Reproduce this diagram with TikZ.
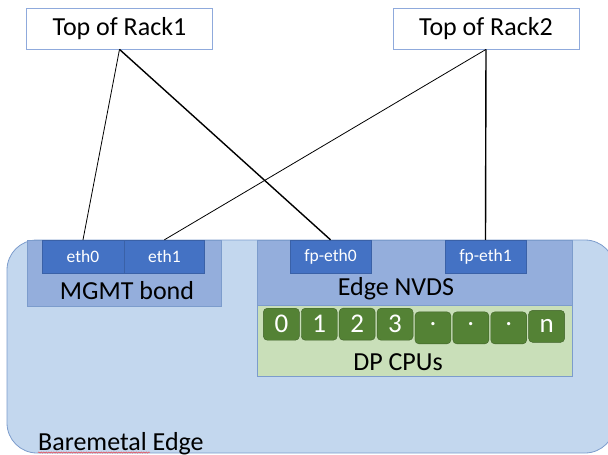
\documentclass[tikz,border=0pt]{standalone}
\usepackage{fontspec}
\setmainfont{Carlito}
\usetikzlibrary{matrix,positioning,decorations.pathmorphing}

\definecolor{edgefill}{HTML}{C3D7EE}
\definecolor{edgeline}{HTML}{7C9CCC}
\definecolor{nvdsfill}{HTML}{94AEDC}
\definecolor{portfill}{HTML}{4472C4}
\definecolor{cpufill}{HTML}{C9DFB9}
\definecolor{cpudark}{HTML}{548235}
\definecolor{rackline}{HTML}{8FAADC}

\newcommand{\middot}{\raisebox{7pt}{.}}

\begin{document}
\begin{tikzpicture}[x=1pt, y=-1pt,
  bigtext/.style={font=\fontsize{26}{30}\selectfont},
  rack/.style={draw=rackline, fill=white, line width=0.8pt,
               minimum width=186pt, minimum height=41pt, inner sep=0pt, bigtext},
  port/.style={draw=portfill!85!black, fill=portfill, text=white, line width=0.4pt,
               minimum height=33pt, inner sep=0pt, font=\fontsize{17.5}{20}\selectfont},
  cpu/.style={draw=cpudark!75!black, fill=cpudark, text=white, rounded corners=4pt,
              minimum width=36pt, minimum height=32pt, inner sep=0pt,
              font=\fontsize{27}{30}\selectfont},
  link/.style={black, line width=0.8pt}]

  \useasboundingbox (0,0) rectangle (608,455);
  \clip (0,0) rectangle (608,455);

  %--- Baremetal Edge host
  \draw[draw=edgeline, fill=edgefill, line width=0.8pt, rounded corners=30pt]
    (7,240) rectangle (615,453);
  \node[bigtext, anchor=base west, inner sep=0pt] (bmlabel) at (38,450) {Baremetal Edge};
  \draw[red!80, line width=0.4pt, decorate,
        decoration={snake, amplitude=0.7pt, segment length=2.5pt}]
    ([yshift=-2.5pt]bmlabel.base west) -- ++(112,0);

  %--- MGMT bond with eth0 / eth1
  \node[draw=edgeline, fill=nvdsfill, minimum width=194pt, minimum height=66pt,
        inner sep=0pt] (mgmt) at (124,273) {};
  \node[port, minimum width=82pt] (eth0) at (83,256.5) {eth0};
  \node[port, minimum width=80pt, right=0pt of eth0] (eth1) {eth1};
  \node[bigtext] (mgmtlabel) at (127,291) {MGMT bond};

  %--- Edge NVDS with fast path ports
  \node[draw=edgeline, fill=nvdsfill, minimum width=315pt, minimum height=65pt,
        inner sep=0pt] (nvds) at (414.5,272.5) {};
  \node[port, minimum width=81pt] (fpeth0) at (330.5,256.5) {fp-eth0};
  \node[port, minimum width=81pt] (fpeth1) at (485.5,256.5) {fp-eth1};
  \node[bigtext] (nvdslabel) at (396,289) {Edge NVDS};

  %--- DP CPUs
  \node[draw=edgeline, fill=cpufill, minimum width=315pt, minimum height=71pt,
        inner sep=0pt, below=0pt of nvds] (dp) {};
  \matrix[matrix of nodes, column sep=1.5pt, nodes={cpu}] (C) at (414,326) {
    0 & 1 & 2 & 3 & \middot & \middot & \middot & n \\
  };
  \node[bigtext] (dplabel) at (398,362) {DP CPUs};

  %--- Top of rack switches
  \node[rack] (tor1) at (119.5,28.5) {Top of Rack1};
  \node[rack] (tor2) at (486,28.5) {Top of Rack2};

  %--- Uplinks
  \draw[link] (tor1.south) -- (eth0.north);
  \draw[link, line width=1.4pt] (tor1.south) -- (fpeth0.north);
  \draw[link] (tor2.south) -- (eth1.north);
  \draw[link, line width=1.4pt] (tor2.south) -- (fpeth1.north);

\end{tikzpicture}
\end{document}
